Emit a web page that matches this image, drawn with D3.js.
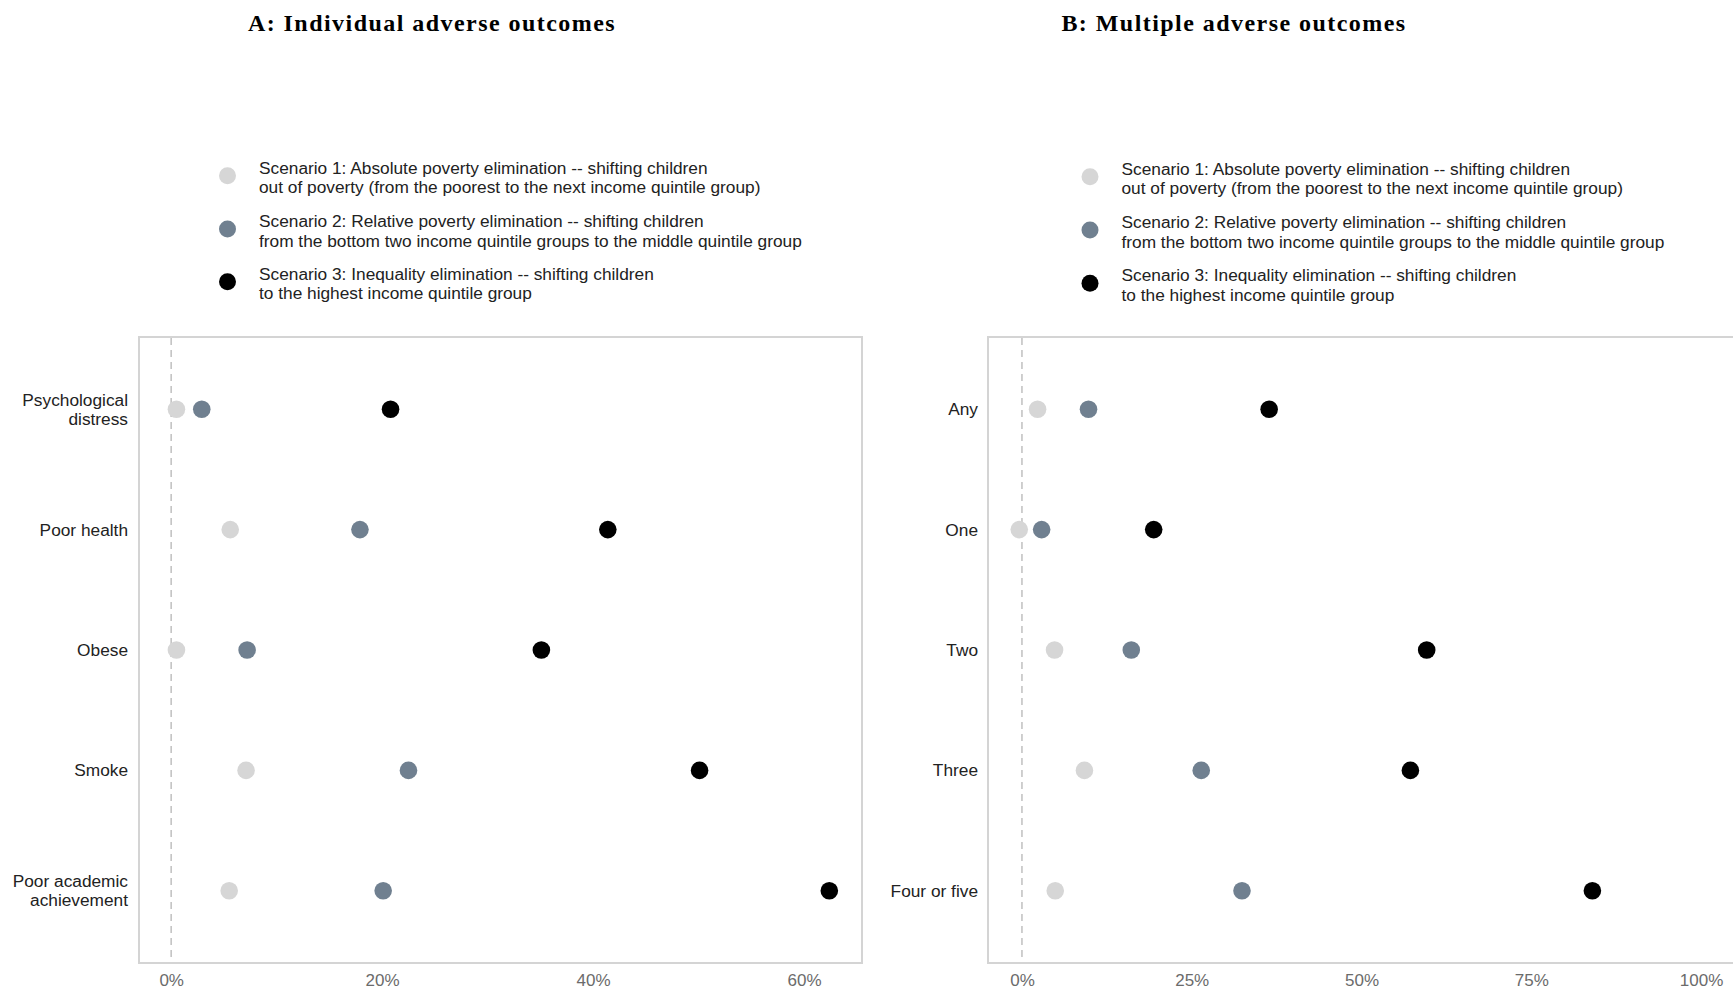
<!DOCTYPE html>
<html>
<head>
<meta charset="utf-8">
<script src="https://cdn.jsdelivr.net/npm/d3@7"></script>
<style>
  html, body { margin: 0; padding: 0; background: #ffffff; }
  svg { display: block; }
</style>
</head>
<body>
<svg id="chart" width="1733" height="991"></svg>
<script>
// ---------------- DATA ----------------
const titleA = "A: Individual adverse outcomes";
const titleB = "B: Multiple adverse outcomes";

const scenarioNames = ["Scenario 1", "Scenario 2", "Scenario 3"];
const scenarioColors = ["#d6d6d6", "#708090", "#000000"];
const legendLines = [
  ["Scenario 1: Absolute poverty elimination -- shifting children",
   "out of poverty (from the poorest to the next income quintile group)"],
  ["Scenario 2: Relative poverty elimination -- shifting children",
   "from the bottom two income quintile groups to the middle quintile group"],
  ["Scenario 3: Inequality elimination -- shifting children",
   "to the highest income quintile group"]
];

// Panel A
const categoriesA = ["Psychological\ndistress", "Poor health", "Obese", "Smoke", "Poor academic\nachievement"];
const scenario1A = [0.5, 5.6, 0.5, 7.1, 5.5];
const scenario2A = [2.9, 17.9, 7.2, 22.5, 20.1];
const scenario3A = [20.8, 41.4, 35.1, 50.1, 62.4];
const ticksA = [0, 20, 40, 60];

// Panel B
const categoriesB = ["Any", "One", "Two", "Three", "Four or five"];
const scenario1B = [2.3, -0.4, 4.8, 9.2, 4.9];
const scenario2B = [9.8, 2.9, 16.1, 26.4, 32.4];
const scenario3B = [36.4, 19.4, 59.6, 57.2, 84.0];
const ticksB = [0, 25, 50, 75, 100];

// ---------------- DRAW ----------------
const svg = d3.select("#chart");
const sans = "'Liberation Sans', Arial, Helvetica, sans-serif";
const serif = "'Liberation Serif', 'Times New Roman', serif";

function drawPanel(cfg) {
  const g = svg.append("g");
  const x = d3.scaleLinear().domain(cfg.xDomain).range([cfg.left, cfg.right]);
  const y = d3.scalePoint().domain(cfg.categories).range([cfg.top, cfg.bottom]).padding(0.6);

  // title
  g.append("text")
    .attr("x", cfg.titleX).attr("y", 31)
    .attr("text-anchor", "middle")
    .attr("font-family", serif).attr("font-weight", "bold")
    .attr("font-size", 24).attr("letter-spacing", 1.45)
    .attr("fill", "#000")
    .text(cfg.title);

  // legend
  const lg = g.append("g");
  legendLines.forEach((lines, i) => {
    const cy = cfg.legendY[i];
    lg.append("circle").attr("cx", cfg.legendX).attr("cy", cy).attr("r", 8.5)
      .attr("fill", scenarioColors[i]);
    lines.forEach((ln, j) => {
      lg.append("text")
        .attr("x", cfg.legendTextX)
        .attr("y", cy - 8 + j * 19.6 + 6)
        .attr("font-family", sans).attr("font-size", 17.3)
        .attr("fill", "#222")
        .text(ln);
    });
  });

  // panel background + border
  g.append("rect")
    .attr("x", cfg.left).attr("y", cfg.top)
    .attr("width", cfg.right - cfg.left).attr("height", cfg.bottom - cfg.top)
    .attr("fill", "#ffffff").attr("stroke", "#d4d4d4").attr("stroke-width", 2);

  // dashed zero line
  g.append("line")
    .attr("x1", x(0)).attr("x2", x(0))
    .attr("y1", cfg.top + 1).attr("y2", cfg.bottom - 1)
    .attr("stroke", "#c4c4c4").attr("stroke-width", 1.6)
    .attr("stroke-dasharray", "7,5");

  // x axis
  const xAxis = d3.axisBottom(x).tickValues(cfg.ticks)
    .tickFormat(d => d + "%").tickSize(0).tickPadding(11);
  const ax = g.append("g").attr("transform", `translate(0,${cfg.bottom})`).call(xAxis);
  ax.select(".domain").remove();
  ax.selectAll("text").attr("font-family", sans).attr("font-size", 17).attr("fill", "#6b6b6b");

  // y labels
  cfg.categories.forEach(c => {
    const lines = c.split("\n");
    const cy = y(c);
    lines.forEach((ln, j) => {
      const off = (j - (lines.length - 1) / 2) * 19;
      g.append("text")
        .attr("x", cfg.labelX).attr("y", cy + off + 6)
        .attr("text-anchor", "end")
        .attr("font-family", sans).attr("font-size", 17.3)
        .attr("fill", "#222")
        .text(ln);
    });
  });

  // points
  const series = [cfg.s1, cfg.s2, cfg.s3];
  series.forEach((vals, si) => {
    g.append("g").selectAll("circle")
      .data(cfg.categories.map((c, i) => ({ c, v: vals[i] })))
      .join("circle")
      .attr("cx", d => x(d.v))
      .attr("cy", d => y(d.c))
      .attr("r", 8.8)
      .attr("fill", scenarioColors[si]);
  });
}

drawPanel({
  title: titleA, titleX: 432,
  legendX: 227.5, legendTextX: 259, legendY: [175.7, 229, 281.7],
  left: 139, right: 862, top: 337, bottom: 963,
  xDomain: [-3.05, 65.5], ticks: ticksA,
  categories: categoriesA, labelX: 128,
  s1: scenario1A, s2: scenario2A, s3: scenario3A
});

drawPanel({
  title: titleB, titleX: 1234,
  legendX: 1090, legendTextX: 1121.5, legendY: [176.7, 230, 283.3],
  left: 988, right: 1735, top: 337, bottom: 963,
  xDomain: [-5, 105], ticks: ticksB,
  categories: categoriesB, labelX: 978,
  s1: scenario1B, s2: scenario2B, s3: scenario3B
});
</script>
</body>
</html>
